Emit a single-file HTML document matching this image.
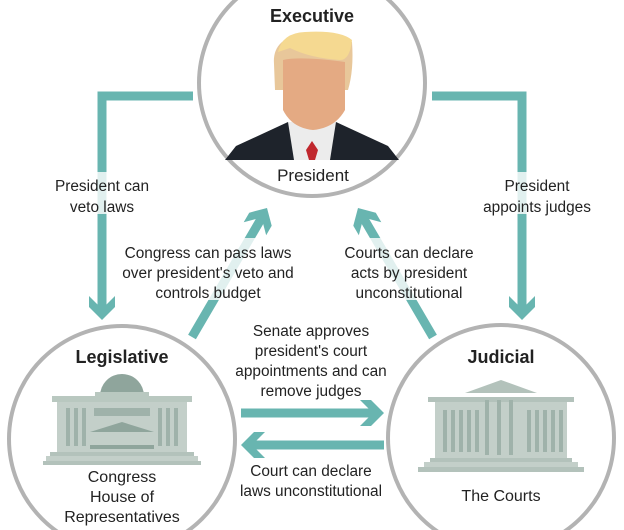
<!DOCTYPE html>
<html><head><meta charset="utf-8"><style>
html,body{margin:0;padding:0;background:#fff}
svg{display:block}
text{font-family:"Liberation Sans",Arial,sans-serif;fill:#222}
.l{font-size:15.4px;text-anchor:middle}
.h{font-size:18px;font-weight:bold;text-anchor:middle}
.s{font-size:17px;text-anchor:middle}
</style></head><body>
<svg width="624" height="530" viewBox="0 0 624 530" xmlns="http://www.w3.org/2000/svg">
<defs>
<polygon id="ah" points="0,0 -13,-13 -24,-13 -13,-2 -13,2 -24,13 -13,13"/>
</defs>
<g fill="none" stroke="#68b5b0" stroke-width="9">
<polyline points="193,96 102,96 102,308"/>
<polyline points="432,96 522,96 522,308"/>
<line x1="192" y1="337" x2="261" y2="219"/>
<line x1="433" y1="337" x2="364" y2="219"/>
<line x1="241" y1="413" x2="372" y2="413"/>
<line x1="384" y1="445" x2="253" y2="445"/>
</g>
<g fill="#68b5b0">
<use href="#ah" transform="translate(102,320) rotate(90)"/>
<use href="#ah" transform="translate(522,320) rotate(90)"/>
<use href="#ah" transform="translate(267,208) rotate(-59.8)"/>
<use href="#ah" transform="translate(358,208) rotate(-120.2)"/>
<use href="#ah" transform="translate(384,413)"/>
<use href="#ah" transform="translate(241,445) rotate(180)"/>
</g>
<g fill="#fff" fill-opacity="0.8">
<rect x="50" y="172" width="106" height="42"/>
<rect x="470" y="172" width="134" height="42"/>
<rect x="115" y="238" width="185" height="62"/>
<rect x="335" y="238" width="150" height="62"/>
</g>
<g fill="#fff" stroke="#b3b3b3" stroke-width="4">
<circle cx="312" cy="83" r="113"/>
<circle cx="122" cy="439" r="113"/>
<circle cx="501" cy="438" r="113"/>
</g>
<!-- president -->
<polygon points="225,160 236,146 288,122 336,122 388,146 399,160" fill="#1e232b"/>
<polygon points="288,122 336,122 330,160 294,160" fill="#ececec"/>
<polygon points="306,150 312,141 318,150 315,160 309,160" fill="#c0272d"/>
<path d="M274,64 Q272,40 300,34 Q330,30 352,42 Q354,70 348,90 L275,90 Z" fill="#e8c79a"/>
<path d="M278,52 Q282,33 305,32 Q340,30 352,40 Q350,60 340,60 Q310,58 290,48 Z" fill="#f5d991"/>
<path d="M283,60 Q300,56 345,62 L345,110 Q335,128 313,130 Q292,128 283,110 Z" fill="#e4aa83"/>
<text class="h" x="312" y="22">Executive</text>
<text class="s" x="313" y="181">President</text>
<!-- legislative building -->
<g>
<circle cx="122" cy="396" r="22" fill="#8fa59c"/>
<rect x="95" y="392" width="54" height="6" fill="#b9c8c0"/>
<rect x="52" y="396" width="140" height="6" fill="#b9c8c0"/>
<rect x="57" y="402" width="130" height="50" fill="#c3cfc9"/>
<g fill="#9fb2aa">
<rect x="66" y="408" width="4" height="38"/><rect x="74" y="408" width="4" height="38"/><rect x="82" y="408" width="4" height="38"/>
<rect x="158" y="408" width="4" height="38"/><rect x="166" y="408" width="4" height="38"/><rect x="174" y="408" width="4" height="38"/>
<rect x="94" y="408" width="56" height="8"/>
</g>
<polygon points="90,432 122,422 154,432" fill="#8fa59c"/>
<rect x="90" y="445" width="64" height="4" fill="#8fa59c"/>
<rect x="50" y="452" width="144" height="4" fill="#b3c2bb"/>
<rect x="46" y="456" width="152" height="5" fill="#c3cfc9"/>
<rect x="43" y="461" width="158" height="4" fill="#b3c2bb"/>
</g>
<text class="h" x="122" y="363">Legislative</text>
<text class="l" x="122" y="482" style="font-size:16px">Congress</text>
<text class="l" x="122" y="502" style="font-size:16px">House of</text>
<text class="l" x="122" y="522" style="font-size:16px">Representatives</text>
<text class="l" x="122" y="542" style="font-size:16px">Senate</text>
<!-- judicial building -->
<g>
<polygon points="465,393 501,380 537,393" fill="#b3c2bb"/>
<rect x="428" y="397" width="146" height="5" fill="#b3c2bb"/>
<rect x="435" y="402" width="132" height="56" fill="#c3cfc9"/>
<g fill="#9fb2aa">
<rect x="443" y="410" width="4" height="42"/><rect x="451" y="410" width="4" height="42"/><rect x="459" y="410" width="4" height="42"/><rect x="467" y="410" width="4" height="42"/><rect x="475" y="410" width="4" height="42"/>
<rect x="527" y="410" width="4" height="42"/><rect x="535" y="410" width="4" height="42"/><rect x="543" y="410" width="4" height="42"/><rect x="551" y="410" width="4" height="42"/><rect x="559" y="410" width="4" height="42"/>
<rect x="485" y="400" width="4" height="55"/><rect x="497" y="400" width="4" height="55"/><rect x="509" y="400" width="4" height="55"/>
</g>
<rect x="430" y="458" width="142" height="4" fill="#b3c2bb"/>
<rect x="424" y="462" width="154" height="5" fill="#c3cfc9"/>
<rect x="418" y="467" width="166" height="5" fill="#b3c2bb"/>
</g>
<text class="h" x="501" y="363">Judicial</text>
<text class="l" x="501" y="501" style="font-size:16px">The Courts</text>
<!-- labels -->
<text class="l" x="102" y="191">President can</text>
<text class="l" x="102" y="212">veto laws</text>
<text class="l" x="537" y="191">President</text>
<text class="l" x="537" y="212">appoints judges</text>
<text class="l" x="208" y="258">Congress can pass laws</text>
<text class="l" x="208" y="278">over president's veto and</text>
<text class="l" x="208" y="298">controls budget</text>
<text class="l" x="409" y="258">Courts can declare</text>
<text class="l" x="409" y="278">acts by president</text>
<text class="l" x="409" y="298">unconstitutional</text>
<text class="l" x="311" y="336">Senate approves</text>
<text class="l" x="311" y="356">president's court</text>
<text class="l" x="311" y="376">appointments and can</text>
<text class="l" x="311" y="396">remove judges</text>
<text class="l" x="311" y="476">Court can declare</text>
<text class="l" x="311" y="496">laws unconstitutional</text>
</svg>
</body></html>
